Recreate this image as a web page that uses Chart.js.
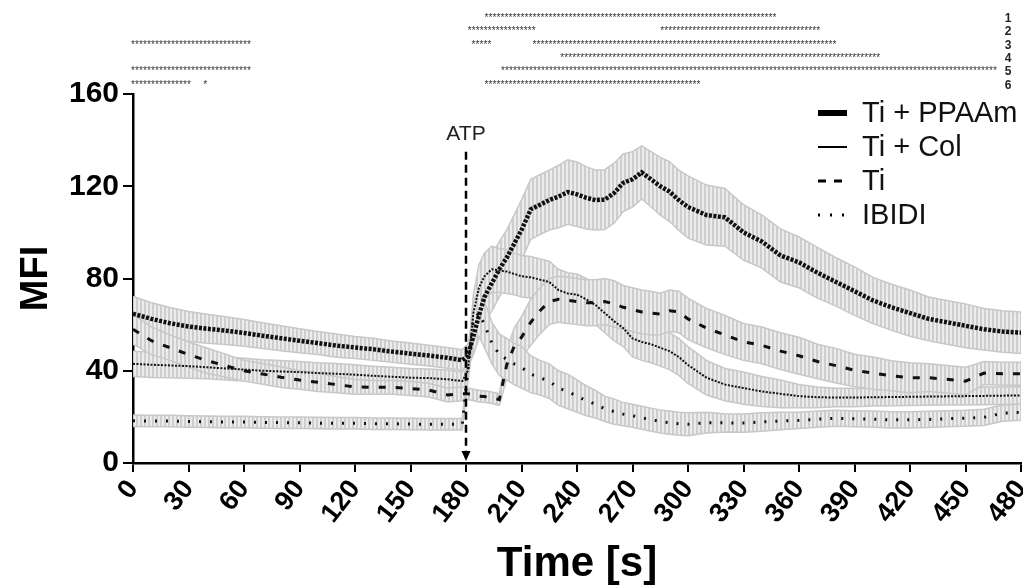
<!DOCTYPE html>
<html>
<head>
<meta charset="utf-8">
<script src="https://cdn.jsdelivr.net/npm/chart.js@4.4.1/dist/chart.umd.min.js"></script>
<style>
  html, body { margin: 0; padding: 0; background: #fff; }
  #wrap { width: 1023px; height: 588px; }
</style>
</head>
<body>
<div id="wrap"><canvas id="chart" width="1023" height="588"></canvas></div>
<script>
// time points [s]
const times = [0,10,20,30,40,50,60,70,80,90,100,110,120,130,140,150,160,170,178,
  181,184,187,190,194,198,202,206,210,215,220,225,230,235,240,245,250,255,260,265,270,275,280,285,290,295,300,
  310,320,330,340,350,360,370,380,390,400,410,420,430,440,450,460,470,480];

// mean fluorescence
const ppaam = [64.7,62.5,60.6,59.2,58.2,57.4,56.4,55.2,54.1,53.0,52.0,50.9,50.1,49.3,48.3,47.4,46.6,45.6,44.6,
  46.5,55,64,72,78,84,89,95,101,110,112,114,115.5,117.5,116.5,115,114,114.2,117,121.5,123,126,123,120,117.7,114,111,
  107.5,106.5,100,96,90,87,82.5,78.5,74.5,70.5,67.5,65,62.5,61,59.5,58,57,56.5];
const ppaamErr = [7.5,7,6.8,6.5,6.3,6,5.8,5.6,5.4,5.2,5,5,4.8,4.8,4.6,4.6,4.5,4.5,4.5,
  5,8,10,11,12,12,12,12.5,13,13,13,13,13.5,14,14,13.5,13,13,13,12.5,12,11.5,12,12.5,13,13,13.5,
  13,12.5,12,11.5,11.5,11,11,10.5,10.5,10,10,10,9.5,9.5,9.5,9,9,9];

const col = [43,42.6,42.3,42,41.5,41,40.5,40,39.7,39.4,39,38.7,38.3,37.8,37.4,37,36.8,36.3,35.5,
  40,65,76,81,84,83.5,83,82,81,80.5,79.5,78.5,75,73.5,73,71,68.5,65,61.5,58.5,54,52.5,51.5,50,48.5,46,42.5,
  37,34,32.5,31,30,29,28.5,28.4,28.4,28.5,28.6,28.7,28.8,28.9,29,29.1,29.2,29.3];
const colErr = [5.5,5.5,5.3,5.2,5,5,4.9,4.8,4.7,4.6,4.5,4.4,4.3,4.2,4.1,4,4,4,4,
  4.5,8,10,10,10,9.5,9.5,9,9,9,9,9,9,9,9,9,8.5,8.5,8.5,8,8,8,8,8,8,8,8,
  7.5,7,7,6.5,6,5,4.5,4,4,3.8,3.8,3.8,3.8,3.8,3.8,3.8,3.8,3.8];

const ti = [58,53,50,47,44.4,42.2,40,38.6,37.2,36,35,34,33,32.8,32.8,32.3,31.6,29.5,30,
  30,29.5,29,28.8,28.3,27.5,42.5,50.5,54.5,61,66,70,71,70.5,70,69.5,69.5,70,69,67.5,66.5,65.5,65,64.6,66,65.5,62.5,
  58.5,55.5,52.5,51,48.5,46.5,44,42.2,40.2,39,37.8,37,37,36.3,35.5,39,38.7,38.7];
const tiErr = [6.5,6,5.5,5.5,5.5,5,4.5,4.5,4.5,4,4,3.5,3.2,3,3,3,3,3,3,
  2.5,2.5,2.5,2.5,2.5,2.5,6,8,9,10,10,10,10,10,10,10,10,10,10,9.5,9.5,9.5,9.5,9,9,9,9,
  8.5,8.5,8,8,8,8,7.5,7.5,7,7,6.5,6.5,6,6,6,5,5,5];

const ibidi = [18.3,18.2,18.2,18,17.9,17.8,17.8,17.6,17.5,17.5,17.3,17.2,17.2,17,17,16.9,16.8,16.8,16.8,
  40,62,65,60,52,47,45,43,41.5,38.5,37,35.5,32.5,31,29,27,25.5,23.5,22.3,21.2,20.5,19.6,18.8,18,17.5,17,16.8,
  17.5,17.4,17.3,17.8,18.2,18.5,19,19.4,19.2,19,18.7,18.7,18.9,19.2,19.4,19.8,21.6,22];
const ibidiErr = [2.5,2.5,2.5,2.5,2.5,2.5,2.5,2.5,2.5,2.5,2.5,2.5,2.5,2.5,2.5,2.5,2.5,2.5,2.5,
  5,8,10,10,9,9,9,9,9,8,7.5,7.5,7.5,7.5,7,6.5,6,5.5,5.5,5,5,5,5,5,5,5,5,
  4.5,4,4,4,3.8,3.5,3.5,3.5,3.5,3.5,3.5,3.5,3.5,3.5,3.5,3.5,3.5,3.5];

const seriesNames = ["Ti + PPAAm", "Ti + Col", "Ti", "IBIDI"];
const yTicks = [0, 40, 80, 120, 160];
const atpTime = 180, atpTop = 135;

// significance rows 1..6: time intervals [s] marked with asterisks
const sigRows = [
  [[191, 347]],
  [[182, 217], [286, 372]],
  [[0, 63], [184, 194], [217, 380]],
  [[232, 404]],
  [[0, 64], [200, 466]],
  [[0, 32], [39, 39], [191, 307]]
];

const FONT = "'Liberation Sans', Arial, sans-serif";

const styles = [
  { width: 4.5, dash: [3, 1.5], legend: "bar" },
  { width: 2, dash: [2, 1.5], legend: [] },
  { width: 3, dash: [7, 10], legend: [8, 8] },
  { width: 3, dash: [2, 9], legend: [2, 10] }
];

const means = [ppaam, col, ti, ibidi];
const errs = [ppaamErr, colErr, tiErr, ibidiErr];

const datasets = seriesNames.map((name, k) => ({
  label: name,
  data: times.map((t, i) => ({ x: t, y: means[k][i] })),
  err: errs[k],
  borderColor: "#111",
  borderWidth: styles[k].width,
  borderDash: styles[k].dash,
  borderCapStyle: "butt",
  pointRadius: 0,
  tension: 0,
  fill: false
}));

// stripe pattern to look like dense grey error bars
const stripe = document.createElement("canvas");
stripe.width = 4; stripe.height = 4;
(function () {
  const g = stripe.getContext("2d");
  g.fillStyle = "#ececec"; g.fillRect(0, 0, 4, 4);
  g.fillStyle = "#cecece"; g.fillRect(0, 0, 2, 4);
})();

const errorBands = {
  id: "errorBands",
  beforeDatasetsDraw(chart) {
    const { ctx, chartArea, scales: { x, y } } = chart;
    const pat = ctx.createPattern(stripe, "repeat");
    ctx.save();
    ctx.beginPath();
    ctx.rect(chartArea.left, chartArea.top, chartArea.width, chartArea.height);
    ctx.clip();
    chart.data.datasets.forEach(ds => {
      const pts = ds.data, e = ds.err;
      ctx.beginPath();
      pts.forEach((p, i) => {
        const px = x.getPixelForValue(p.x), py = y.getPixelForValue(p.y + e[i]);
        i ? ctx.lineTo(px, py) : ctx.moveTo(px, py);
      });
      for (let i = pts.length - 1; i >= 0; i--) {
        ctx.lineTo(x.getPixelForValue(pts[i].x), y.getPixelForValue(pts[i].y - e[i]));
      }
      ctx.closePath();
      ctx.fillStyle = pat;
      ctx.fill();
      ctx.strokeStyle = "#c8c8c8";
      ctx.lineWidth = 1.5;
      [1, -1].forEach(s => {
        ctx.beginPath();
        pts.forEach((p, i) => {
          const px = x.getPixelForValue(p.x), py = y.getPixelForValue(p.y + s * e[i]);
          i ? ctx.lineTo(px, py) : ctx.moveTo(px, py);
        });
        ctx.stroke();
      });
    });
    ctx.restore();
  }
};

const annotations = {
  id: "annotations",
  afterDatasetsDraw(chart) {
    const { ctx, scales: { x, y } } = chart;
    ctx.save();
    // ATP arrow
    const ax = x.getPixelForValue(atpTime), y0 = y.getPixelForValue(atpTop), y1 = y.getPixelForValue(0);
    ctx.strokeStyle = "#000";
    ctx.lineWidth = 2.5;
    ctx.setLineDash([8, 5]);
    ctx.beginPath(); ctx.moveTo(ax, y0); ctx.lineTo(ax, y1 - 10); ctx.stroke();
    ctx.setLineDash([]);
    ctx.fillStyle = "#000";
    ctx.beginPath(); ctx.moveTo(ax - 4.5, y1 - 12); ctx.lineTo(ax + 4.5, y1 - 12); ctx.lineTo(ax, y1 - 2); ctx.closePath(); ctx.fill();
    ctx.font = "21px " + FONT;
    ctx.textAlign = "center";
    ctx.textBaseline = "alphabetic";
    ctx.fillStyle = "#222";
    ctx.fillText("ATP", ax, y0 - 12);
    ctx.restore();
  },
  afterDraw(chart) {
    const { ctx, scales: { x } } = chart;
    ctx.save();
    // asterisk rows
    ctx.textAlign = "center";
    ctx.textBaseline = "alphabetic";
    sigRows.forEach((row, r) => {
      const ry = 16 + r * 13.3;
      ctx.font = "10px " + FONT;
      ctx.fillStyle = "#333";
      row.forEach(([t0, t1]) => {
        const a = x.getPixelForValue(t0), b = x.getPixelForValue(t1);
        for (let px = a; px <= b + 0.1; px += 4) ctx.fillText("*", px, ry + 5);
      });
      ctx.font = "bold 12px " + FONT;
      ctx.fillStyle = "#222";
      ctx.fillText(String(r + 1), 1008, ry + 6);
    });
    // legend
    ctx.textAlign = "left";
    ctx.textBaseline = "middle";
    ctx.font = "29px " + FONT;
    seriesNames.forEach((name, k) => {
      const ly = 113 + k * 34, lx = 818;
      const st = styles[k];
      ctx.fillStyle = "#000";
      ctx.strokeStyle = "#000";
      if (st.legend === "bar") {
        ctx.fillRect(lx, ly - 3, 29, 6);
      } else {
        ctx.lineWidth = k === 1 ? 2 : 3;
        ctx.setLineDash(st.legend);
        ctx.beginPath(); ctx.moveTo(lx, ly); ctx.lineTo(lx + 29, ly); ctx.stroke();
        ctx.setLineDash([]);
      }
      ctx.fillStyle = "#111";
      ctx.fillText(name, 862, ly + 1);
    });
    ctx.restore();
  }
};

new Chart(document.getElementById("chart"), {
  type: "line",
  data: { datasets },
  plugins: [errorBands, annotations],
  options: {
    responsive: false,
    animation: false,
    layout: { padding: { top: 94, right: 2, left: 0, bottom: 0 } },
    plugins: { legend: { display: false }, tooltip: { enabled: false } },
    scales: {
      x: {
        type: "linear", min: 0, max: 480,
        ticks: {
          stepSize: 30, autoSkip: false, maxRotation: 52, minRotation: 52, padding: 2,
          color: "#000", font: { family: FONT, size: 27, weight: "bold" }
        },
        grid: { drawOnChartArea: false, drawTicks: true, tickLength: 9, color: "#000", lineWidth: 2 },
        border: { color: "#000", width: 2.5 },
        title: {
          display: true, text: "Time [s]", color: "#000",
          font: { family: FONT, size: 42, weight: "bold", lineHeight: 1.1 },
          padding: { top: 0, bottom: 0 }
        },
        afterFit(s) { s.height = 125; s.paddingLeft = 0; s.paddingRight = 0; }
      },
      y: {
        min: 0, max: 160,
        afterBuildTicks(s) { s.ticks = yTicks.map(v => ({ value: v })); },
        ticks: { padding: 4, color: "#000", font: { family: FONT, size: 30, weight: "bold" } },
        grid: { drawOnChartArea: false, drawTicks: true, tickLength: 10, color: "#000", lineWidth: 2 },
        border: { color: "#000", width: 2.5 },
        title: {
          display: true, text: "MFI", color: "#000",
          font: { family: FONT, size: 38, weight: "bold", lineHeight: 1.2 },
          padding: { top: 14, bottom: 0 }
        },
        afterFit(s) { s.width = 133; }
      }
    }
  }
});
</script>
</body>
</html>
